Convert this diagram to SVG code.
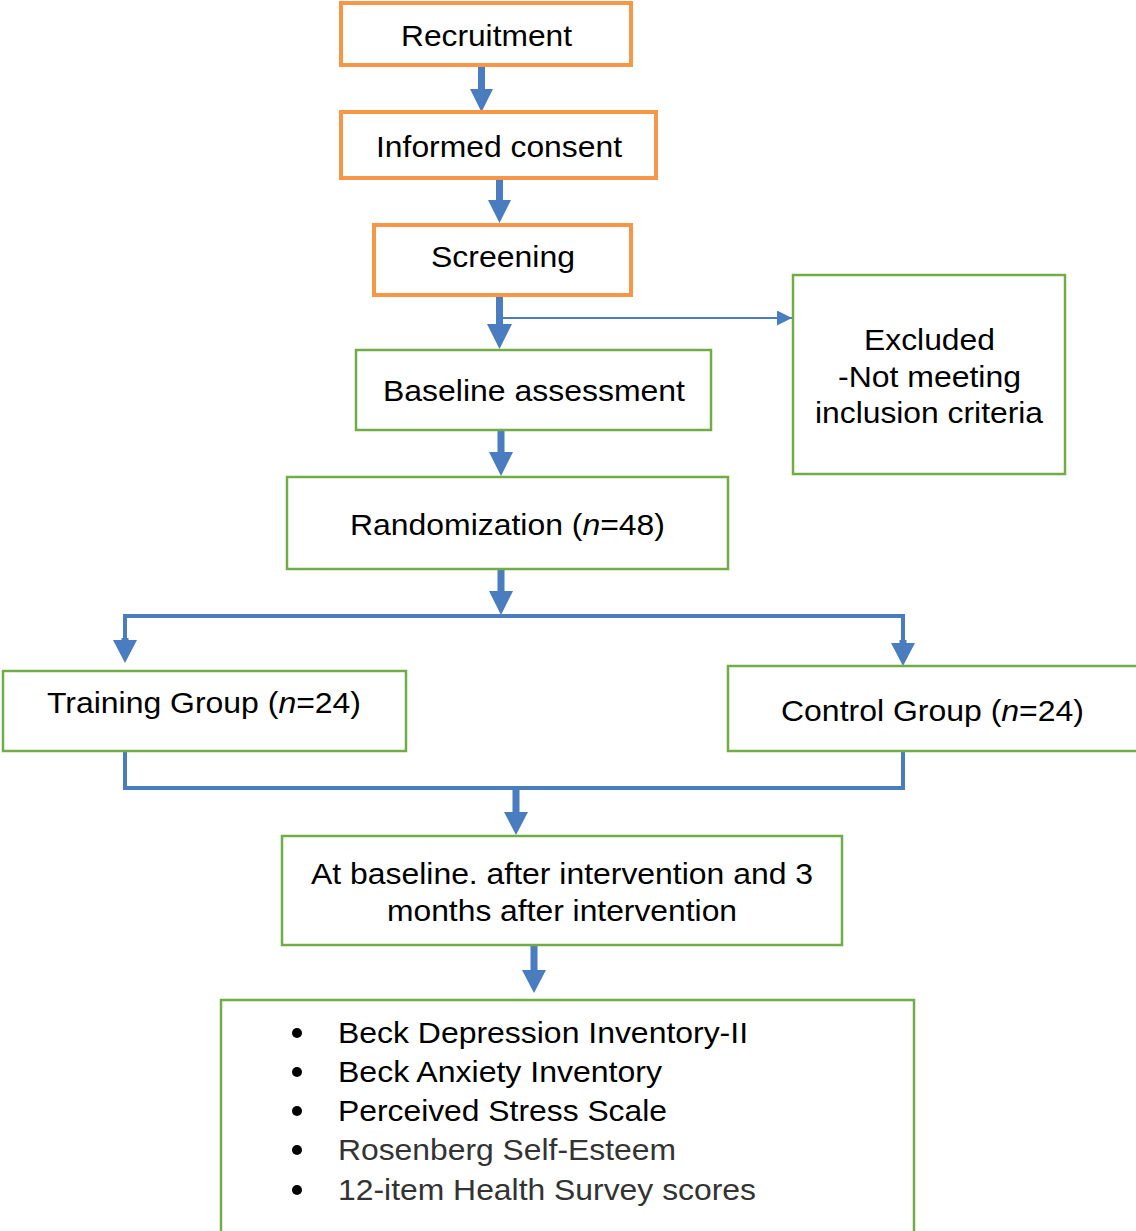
<svg xmlns="http://www.w3.org/2000/svg" width="1136" height="1231" viewBox="0 0 1136 1231">
<defs>
<style>
.box-o{fill:#fff;stroke:#F79646;stroke-width:4}
.box-g{fill:#fff;stroke:#70AD47;stroke-width:2.5}
.t{font-family:"Liberation Sans",Arial,sans-serif;font-size:29px;fill:#000}
.tc{text-anchor:middle}
.gray{fill:#333}
.arr{fill:#4A7CC0;stroke:none}
.ln{fill:none;stroke:#4A7CC0;stroke-width:4}
.thin{fill:none;stroke:#4A7CC0;stroke-width:2}
</style>
<marker id="ah" markerWidth="16" markerHeight="16" refX="15" refY="7.5" orient="auto" markerUnits="userSpaceOnUse">
<path d="M0,0 L15,7.5 L0,15 z" fill="#4A7CC0"/>
</marker>
</defs>
<rect width="1136" height="1231" fill="#fff"/>
<g id="connectors">
<polygon class="arr" points="478,66 485,66 485,89 493,89 481.5,112 470,89 478,89"/>
<polygon class="arr" points="496,178 503,178 503,200 511,200 499.5,223 488,200 496,200"/>
<polygon class="arr" points="496,295 503,295 503,324 512,324 499.5,349 487,324 496,324"/>
<line class="thin" x1="503" y1="318" x2="792" y2="318" marker-end="url(#ah)"/>
<polygon class="arr" points="497.5,430 504.5,430 504.5,452 513,452 501,476 489,452 497.5,452"/>
<polygon class="arr" points="497.5,569 504.5,569 504.5,591 513,591 501,615 489,591 497.5,591"/>
<polyline class="ln" points="125,640 125,616 903,616 903,643"/>
<polygon class="arr" points="121.5,638 128.5,638 128.5,640 137,640 125,663 113,640 121.5,640"/>
<polygon class="arr" points="899.5,640 906.5,640 906.5,643 915,643 903,666 891,643 899.5,643"/>
<polyline class="ln" points="125,751 125,788 903,788 903,751"/>
<polygon class="arr" points="512.5,788 519.5,788 519.5,812 528,812 516,835 504,812 512.5,812"/>
<polygon class="arr" points="530.5,945 537.5,945 537.5,970 546,970 534,993 522,970 530.5,970"/>
</g>
<g id="recruitment">
<rect class="box-o" x="341" y="3" width="290" height="62"/>
<text class="t tc" x="486.5" y="45.5" textLength="171" lengthAdjust="spacingAndGlyphs">Recruitment</text>
</g>
<g id="informed-consent">
<rect class="box-o" x="341" y="112" width="315" height="66"/>
<text class="t tc" x="499" y="157" textLength="246" lengthAdjust="spacingAndGlyphs">Informed consent</text>
</g>
<g id="screening">
<rect class="box-o" x="374" y="225" width="257" height="70"/>
<text class="t tc" x="503" y="267" textLength="144" lengthAdjust="spacingAndGlyphs">Screening</text>
</g>
<g id="excluded">
<rect class="box-g" x="793" y="275" width="272" height="199"/>
<text class="t tc" x="929.5" y="350" textLength="131" lengthAdjust="spacingAndGlyphs">Excluded</text>
<text class="t tc" x="929.5" y="387" textLength="183" lengthAdjust="spacingAndGlyphs">-Not meeting</text>
<text class="t tc" x="929" y="423" textLength="228" lengthAdjust="spacingAndGlyphs">inclusion criteria</text>
</g>
<g id="baseline-assessment">
<rect class="box-g" x="356" y="350" width="355" height="80"/>
<text class="t tc" x="534" y="401" textLength="302" lengthAdjust="spacingAndGlyphs">Baseline assessment</text>
</g>
<g id="randomization">
<rect class="box-g" x="287" y="477" width="441" height="92"/>
<text class="t tc" x="507.5" y="535" textLength="315" lengthAdjust="spacingAndGlyphs">Randomization (<tspan font-style="italic">n</tspan>=48)</text>
</g>
<g id="training-group">
<rect class="box-g" x="3" y="671" width="403" height="80"/>
<text class="t tc" x="204" y="713" textLength="314" lengthAdjust="spacingAndGlyphs">Training Group (<tspan font-style="italic">n</tspan>=24)</text>
</g>
<g id="control-group">
<rect class="box-g" x="728" y="666" width="412" height="85"/>
<text class="t tc" x="932.5" y="721" textLength="303" lengthAdjust="spacingAndGlyphs">Control Group (<tspan font-style="italic">n</tspan>=24)</text>
</g>
<g id="timepoints">
<rect class="box-g" x="282" y="836" width="560" height="109"/>
<text class="t tc" x="562" y="884" textLength="502" lengthAdjust="spacingAndGlyphs">At baseline. after intervention and 3</text>
<text class="t tc" x="562" y="921" textLength="350" lengthAdjust="spacingAndGlyphs">months after intervention</text>
</g>
<g id="measures">
<rect class="box-g" x="221" y="1000" width="693" height="235"/>
<circle cx="297" cy="1033" r="5"/>
<circle cx="297" cy="1072" r="5"/>
<circle cx="297" cy="1111" r="5"/>
<circle cx="297" cy="1150" r="5"/>
<circle cx="297" cy="1190" r="5"/>
<text class="t" x="338" y="1043" textLength="410" lengthAdjust="spacingAndGlyphs">Beck Depression Inventory-II</text>
<text class="t" x="338" y="1082" textLength="324" lengthAdjust="spacingAndGlyphs">Beck Anxiety Inventory</text>
<text class="t" x="338" y="1121" textLength="329" lengthAdjust="spacingAndGlyphs">Perceived Stress Scale</text>
<text class="t gray" x="338" y="1160" textLength="338" lengthAdjust="spacingAndGlyphs">Rosenberg Self-Esteem</text>
<text class="t gray" x="338" y="1200" textLength="418" lengthAdjust="spacingAndGlyphs">12-item Health Survey scores</text>
</g>
</svg>
